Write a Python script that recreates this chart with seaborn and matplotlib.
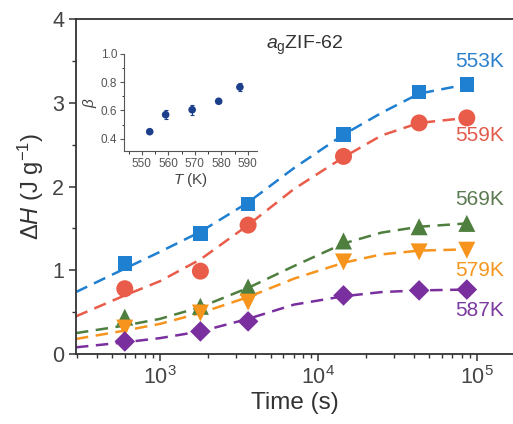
import numpy as np
import pandas as pd
import seaborn as sns
import matplotlib.pyplot as plt
from matplotlib.ticker import LogLocator, MultipleLocator, NullFormatter

# annealing times (s) and measured enthalpy (J/g), one list per temperature
times = [600, 1800, 3600, 14400, 43200, 86400]
dh_553 = [1.08, 1.44, 1.79, 2.62, 3.13, 3.22]
dh_559 = [0.78, 0.99, 1.54, 2.36, 2.76, 2.82]
dh_569 = [0.44, 0.57, 0.80, 1.35, 1.52, 1.56]
dh_579 = [0.31, 0.49, 0.62, 1.10, 1.22, 1.24]
dh_587 = [0.15, 0.27, 0.39, 0.70, 0.76, 0.77]

# dashed fit curves
fit_times = [295, 600, 1000, 1800, 3600, 7000, 14400, 25000, 43200, 86400]
fit_553 = [0.74, 1.02, 1.22, 1.46, 1.81, 2.22, 2.62, 2.88, 3.11, 3.22]
fit_559 = [0.45, 0.70, 0.87, 1.13, 1.54, 1.97, 2.35, 2.61, 2.76, 2.82]
fit_569 = [0.25, 0.34, 0.42, 0.56, 0.79, 1.05, 1.32, 1.45, 1.52, 1.56]
fit_579 = [0.18, 0.28, 0.36, 0.49, 0.68, 0.90, 1.09, 1.19, 1.235, 1.25]
fit_587 = [0.08, 0.14, 0.19, 0.27, 0.42, 0.59, 0.69, 0.74, 0.76, 0.77]

labels = ['553K', '559K', '569K', '579K', '587K']

# inset: Avrami exponent vs temperature
inset_T = [553, 559, 569, 579, 587]
inset_beta = [0.45, 0.57, 0.605, 0.665, 0.765]
inset_err = [0.01, 0.03, 0.035, 0.01, 0.03]

colors = ['#1f7fd0', '#ea5c4a', '#4f7f3f', '#f7941d', '#7a2f9e']
text_colors = ['#2a80cc', '#e25a4c', '#5b7a52', '#f5961e', '#7a3a9e']
markers = ['s', 'o', '^', 'v', 'D']
msizes = [110, 150, 150, 150, 110]
label_y = [3.49, 2.61, 1.84, 1.00, 0.525]

sns.set_style('ticks')
plt.rcParams['font.family'] = ['Liberation Sans', 'DejaVu Sans']
plt.rcParams['mathtext.fontset'] = 'custom'
plt.rcParams['mathtext.rm'] = 'Liberation Sans'
plt.rcParams['mathtext.it'] = 'Liberation Sans:italic'
plt.rcParams['axes.edgecolor'] = '#333333'
plt.rcParams['xtick.color'] = '#333333'
plt.rcParams['ytick.color'] = '#333333'

fig = plt.figure(figsize=(5.13, 4.24), dpi=100)
ax = fig.add_axes([0.148, 0.165, 0.852, 0.790])

series = [dh_553, dh_559, dh_569, dh_579, dh_587]
fits = [fit_553, fit_559, fit_569, fit_579, fit_587]
for i, lab in enumerate(labels):
    fit_df = pd.DataFrame({'t': fit_times, 'dh': fits[i]})
    sns.lineplot(data=fit_df, x='t', y='dh', ax=ax, color=colors[i], lw=1.8,
                 linestyle=(0, (5.0, 3.0)), zorder=1)
    pts = pd.DataFrame({'t': times, 'dh': series[i]})
    sns.scatterplot(data=pts, x='t', y='dh', ax=ax, color=colors[i], marker=markers[i],
                    s=msizes[i], edgecolor='none', zorder=2)
    ax.text(1.04e5, label_y[i], lab, color=text_colors[i], fontsize=15,
            ha='center', va='center')

ax.set_xscale('log')
ax.set_xlim(295, 1.69e5)
ax.set_ylim(0, 4)
ax.yaxis.set_major_locator(MultipleLocator(1))
ax.yaxis.set_minor_locator(MultipleLocator(0.5))
ax.xaxis.set_minor_locator(LogLocator(base=10, subs=np.arange(2, 10)))
ax.xaxis.set_minor_formatter(NullFormatter())
ax.tick_params(axis='both', which='major', direction='out', length=5, width=1.1,
               labelsize=15.5, top=False, right=False, labelcolor='#444444')
ax.tick_params(axis='both', which='minor', direction='out', length=3, width=1.0)
for side in ['left', 'bottom', 'top']:
    ax.spines[side].set_linewidth(1.3)
ax.spines['right'].set_visible(False)
ax.set_xlabel('Time (s)', fontsize=17.5, color='#333333', labelpad=2)
ax.set_ylabel(r'$\mathit{\Delta H}$ (J g$^{-1}$)', fontsize=17, color='#333333', labelpad=4)
ax.text(0.524, 0.922, r'$\mathit{a}_{\mathrm{g}}$ZIF-62', transform=ax.transAxes,
        fontsize=14, color='#333333', ha='center', va='center')

# inset
ins = fig.add_axes([0.2417, 0.644, 0.259, 0.229])
ins_df = pd.DataFrame({'T': inset_T, 'beta': inset_beta})
ins.errorbar(inset_T, inset_beta, yerr=inset_err, fmt='none', ecolor='#1c3f8c',
             elinewidth=0.8, capsize=1.5, capthick=0.8, zorder=1)
sns.scatterplot(data=ins_df, x='T', y='beta', ax=ins, color='#1c3f8c', s=30,
                edgecolor='none', zorder=2)
ins.set_xlim(543.3, 593.4)
ins.set_ylim(0.314, 1.0)
ins.xaxis.set_major_locator(MultipleLocator(10))
ins.xaxis.set_minor_locator(MultipleLocator(5))
ins.yaxis.set_major_locator(MultipleLocator(0.2))
ins.yaxis.set_minor_locator(MultipleLocator(0.1))
ins.tick_params(axis='both', which='major', direction='out', length=3, width=0.8,
                labelsize=8.5, pad=2, colors='#555555')
ins.tick_params(axis='both', which='minor', direction='out', length=1.8, width=0.7)
ins.spines['top'].set_visible(False)
ins.spines['right'].set_visible(False)
for side in ['left', 'bottom']:
    ins.spines[side].set_linewidth(0.8)
    ins.spines[side].set_color('#555555')
ins.patch.set_alpha(0)
ins.set_xlabel(r'$\mathit{T}$ (K)', fontsize=11, color='#444444', labelpad=1)
ins.set_ylabel(r'$\mathit{\beta}$', fontsize=11, color='#444444', labelpad=1)

fig.savefig('out.png', dpi=100)
